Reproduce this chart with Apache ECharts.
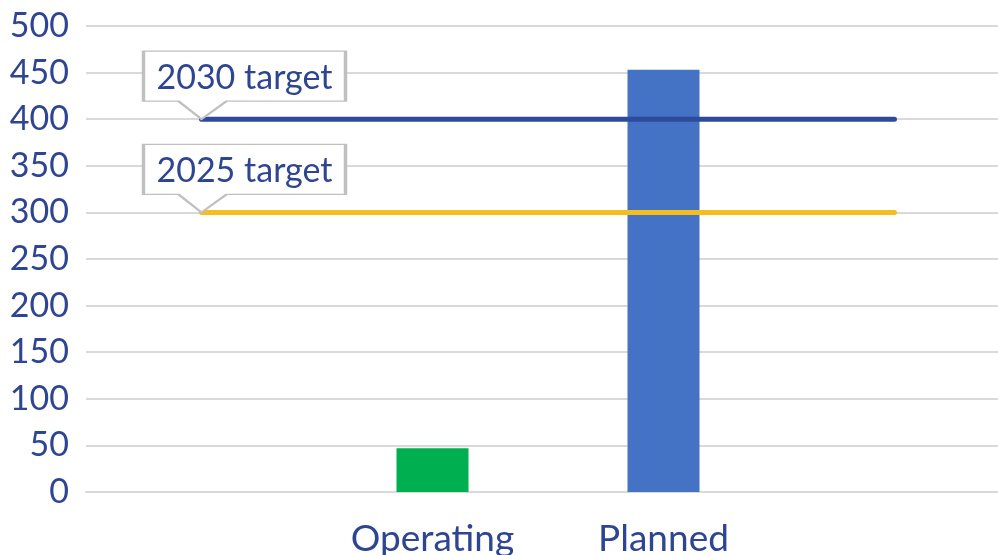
<!DOCTYPE html>
<html>
<head>
<meta charset="utf-8">
<script src="https://cdn.jsdelivr.net/npm/echarts@6/dist/echarts.min.js"></script>
<style>
  html, body { margin: 0; padding: 0; background: #fff; }
  #chart { width: 998px; height: 555px; }
</style>
</head>
<body>
<div id="chart"></div>
<script>
// categories (the two outer ones are empty so the target lines span past the bars)
const categories = ["", "Operating", "Planned", ""];
const capacity = ["-", 47, 453, "-"];
const barColors = ["#00b050", "#00b050", "#4472c4", "#4472c4"];
const target2030 = [400, 400, 400, 400];
const target2025 = [300, 300, 300, 300];
const yTicks = { min: 0, max: 500, interval: 50 };

const navy = "#2d4592";
const font = "Lato";

// callout box with a pointer at the bottom left
const calloutPath = "path://M0,0 L202,0 L202,50 L83,50 L58,68 L35,50 L0,50 Z";

function callout(text, value) {
  return {
    symbol: calloutPath,
    symbolSize: [202, 68],
    symbolOffset: [43, -34],
    silent: true,
    itemStyle: { color: "#fff", borderColor: "#c0c0c0", borderWidth: 2 },
    label: {
      show: true,
      position: "inside",
      offset: [0, -7],
      formatter: text,
      color: navy,
      fontFamily: font,
      fontSize: 34
    },
    data: [{ coord: [0, value] }]
  };
}

let myChart = echarts.init(document.getElementById("chart"));
let option = {
  animation: false,
  grid: { left: 86, width: 924, top: 26, bottom: 63, containLabel: false, outerBoundsMode: "none" },
  xAxis: {
    type: "category",
    data: categories,
    axisLine: { show: true, lineStyle: { color: "#d9d9d9", width: 2 } },
    axisTick: { show: false },
    axisLabel: { color: navy, fontFamily: font, fontSize: 37, margin: 29, interval: 0 }
  },
  yAxis: {
    type: "value",
    min: yTicks.min,
    max: yTicks.max,
    interval: yTicks.interval,
    axisLine: { show: false },
    axisTick: { show: false },
    axisLabel: { color: navy, fontFamily: font, fontSize: 34, margin: 17 },
    splitLine: { lineStyle: { color: "#d9d9d9", width: 2 } }
  },
  series: [
    {
      type: "bar",
      barWidth: 72,
      data: capacity.map((v, i) => ({ value: v, itemStyle: { color: barColors[i] } }))
    },
    {
      type: "line",
      name: "2030 target",
      data: target2030,
      symbol: "none",
      lineStyle: { color: "#2e4a9a", width: 5, cap: "round" },
      markPoint: callout("2030 target", target2030[0])
    },
    {
      type: "line",
      name: "2025 target",
      data: target2025,
      symbol: "none",
      lineStyle: { color: "#f6bd1e", width: 5, cap: "round" },
      markPoint: callout("2025 target", target2025[0])
    }
  ]
};
myChart.setOption(option);
window.addEventListener("resize", () => {
  myChart.resize();
});
</script>
</body>
</html>
